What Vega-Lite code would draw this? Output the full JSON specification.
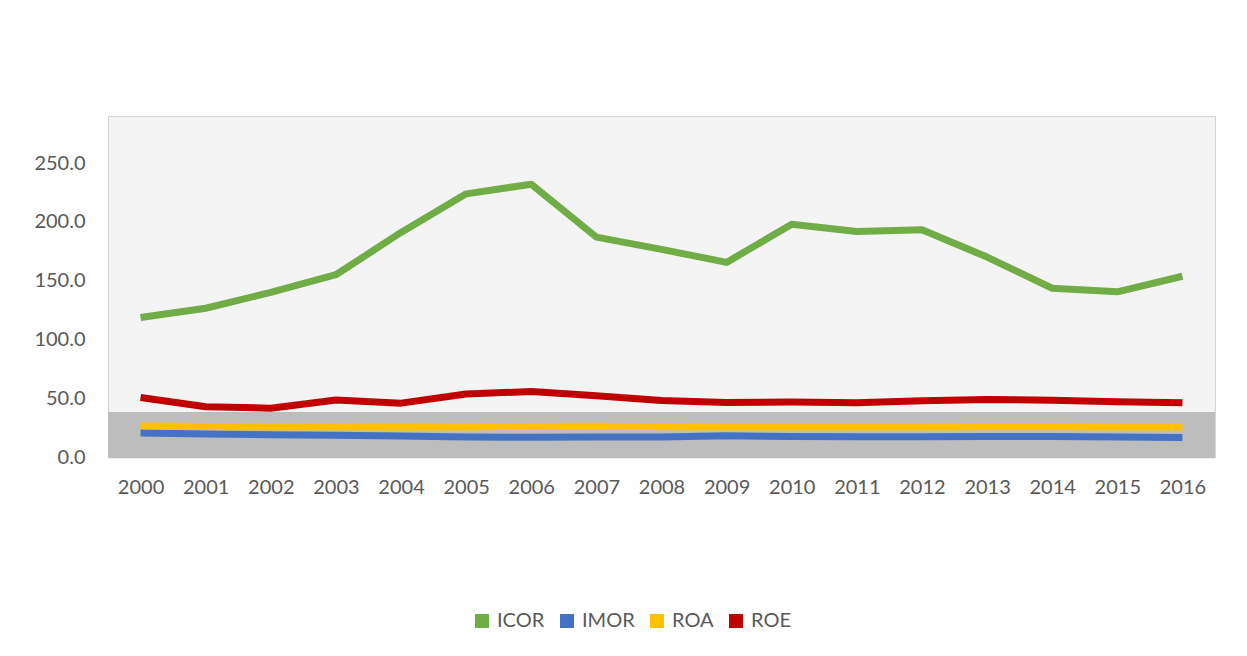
{
  "$schema": "https://vega.github.io/schema/vega-lite/v6.json",
  "autosize": {"type": "none"},
  "width": 1107,
  "height": 341,
  "padding": {"left": 108, "top": 116, "right": 32, "bottom": 199},
  "background": "white",
  "config": {
    "view": {"stroke": "#d4d4d4", "strokeWidth": 1, "fill": "#f4f4f4"},
    "font": "Lato",
    "axis": {"labelFont": "Lato", "labelFontSize": 20, "labelColor": "#595959", "grid": false, "ticks": false, "title": null},
    "legend": {"labelFont": "Lato", "labelFontSize": 20, "labelColor": "#595959"}
  },
  "data": {
    "values": [
      {"year": "2000", "series": "ICOR", "value": 118.6},
      {"year": "2001", "series": "ICOR", "value": 126.5},
      {"year": "2002", "series": "ICOR", "value": 140.0},
      {"year": "2003", "series": "ICOR", "value": 155.0},
      {"year": "2004", "series": "ICOR", "value": 191.0},
      {"year": "2005", "series": "ICOR", "value": 223.8},
      {"year": "2006", "series": "ICOR", "value": 232.0},
      {"year": "2007", "series": "ICOR", "value": 187.0},
      {"year": "2008", "series": "ICOR", "value": 176.6},
      {"year": "2009", "series": "ICOR", "value": 165.5},
      {"year": "2010", "series": "ICOR", "value": 198.0},
      {"year": "2011", "series": "ICOR", "value": 191.7},
      {"year": "2012", "series": "ICOR", "value": 193.2},
      {"year": "2013", "series": "ICOR", "value": 170.0},
      {"year": "2014", "series": "ICOR", "value": 143.5},
      {"year": "2015", "series": "ICOR", "value": 140.5},
      {"year": "2016", "series": "ICOR", "value": 153.7},
      {"year": "2000", "series": "IMOR", "value": 20.5},
      {"year": "2001", "series": "IMOR", "value": 19.5},
      {"year": "2002", "series": "IMOR", "value": 19.0},
      {"year": "2003", "series": "IMOR", "value": 18.5},
      {"year": "2004", "series": "IMOR", "value": 17.8},
      {"year": "2005", "series": "IMOR", "value": 17.0},
      {"year": "2006", "series": "IMOR", "value": 16.8},
      {"year": "2007", "series": "IMOR", "value": 17.0},
      {"year": "2008", "series": "IMOR", "value": 17.0},
      {"year": "2009", "series": "IMOR", "value": 18.0},
      {"year": "2010", "series": "IMOR", "value": 17.5},
      {"year": "2011", "series": "IMOR", "value": 17.2},
      {"year": "2012", "series": "IMOR", "value": 17.2},
      {"year": "2013", "series": "IMOR", "value": 17.5},
      {"year": "2014", "series": "IMOR", "value": 17.5},
      {"year": "2015", "series": "IMOR", "value": 17.0},
      {"year": "2016", "series": "IMOR", "value": 16.5},
      {"year": "2000", "series": "ROA", "value": 26.5},
      {"year": "2001", "series": "ROA", "value": 26.0},
      {"year": "2002", "series": "ROA", "value": 25.5},
      {"year": "2003", "series": "ROA", "value": 25.5},
      {"year": "2004", "series": "ROA", "value": 25.3},
      {"year": "2005", "series": "ROA", "value": 25.5},
      {"year": "2006", "series": "ROA", "value": 26.0},
      {"year": "2007", "series": "ROA", "value": 26.2},
      {"year": "2008", "series": "ROA", "value": 25.8},
      {"year": "2009", "series": "ROA", "value": 25.5},
      {"year": "2010", "series": "ROA", "value": 25.5},
      {"year": "2011", "series": "ROA", "value": 25.5},
      {"year": "2012", "series": "ROA", "value": 25.6},
      {"year": "2013", "series": "ROA", "value": 25.8},
      {"year": "2014", "series": "ROA", "value": 25.8},
      {"year": "2015", "series": "ROA", "value": 25.6},
      {"year": "2016", "series": "ROA", "value": 25.5},
      {"year": "2000", "series": "ROE", "value": 50.6},
      {"year": "2001", "series": "ROE", "value": 42.8},
      {"year": "2002", "series": "ROE", "value": 41.5},
      {"year": "2003", "series": "ROE", "value": 48.4},
      {"year": "2004", "series": "ROE", "value": 45.8},
      {"year": "2005", "series": "ROE", "value": 53.5},
      {"year": "2006", "series": "ROE", "value": 55.7},
      {"year": "2007", "series": "ROE", "value": 52.0},
      {"year": "2008", "series": "ROE", "value": 48.0},
      {"year": "2009", "series": "ROE", "value": 46.4},
      {"year": "2010", "series": "ROE", "value": 46.8},
      {"year": "2011", "series": "ROE", "value": 46.2},
      {"year": "2012", "series": "ROE", "value": 47.8},
      {"year": "2013", "series": "ROE", "value": 49.0},
      {"year": "2014", "series": "ROE", "value": 48.2},
      {"year": "2015", "series": "ROE", "value": 47.0},
      {"year": "2016", "series": "ROE", "value": 46.2}
    ]
  },
  "layer": [
    {
      "mark": {"type": "rect", "fill": "#bdbdbd", "opacity": 1},
      "encoding": {
        "y": {"datum": 0, "type": "quantitative", "scale": {"domain": [0, 290], "nice": false}},
        "y2": {"datum": 38}
      }
    },
    {
      "mark": {"type": "line", "strokeWidth": 7, "strokeCap": "butt", "strokeJoin": "round"},
      "encoding": {
        "x": {
          "field": "year", "type": "ordinal",
          "scale": {"type": "point", "padding": 0.5},
          "axis": {"labelAngle": 0, "domainColor": "#bfbfbf", "domainWidth": 1.5, "labelPadding": 20}
        },
        "y": {
          "field": "value", "type": "quantitative",
          "scale": {"domain": [0, 290], "nice": false, "zero": true},
          "axis": {"values": [0, 50, 100, 150, 200, 250], "format": ".1f", "domain": false, "labelPadding": 23}
        },
        "color": {
          "field": "series", "type": "nominal",
          "scale": {"domain": ["ICOR", "IMOR", "ROA", "ROE"], "range": ["#70AD47", "#4472C4", "#FFC000", "#C00000"]},
          "legend": {
            "title": null, "orient": "none", "direction": "horizontal",
            "legendX": 364, "legendY": 495, "padding": 0,
            "symbolType": "square", "symbolSize": 196, "symbolStrokeWidth": 0,
            "labelOffset": 5, "columnPadding": 12,
            "encode": {"symbols": {"update": {"fill": {"scale": "color", "field": "value"}, "fillOpacity": {"value": 1}}}}
          }
        }
      }
    }
  ]
}
